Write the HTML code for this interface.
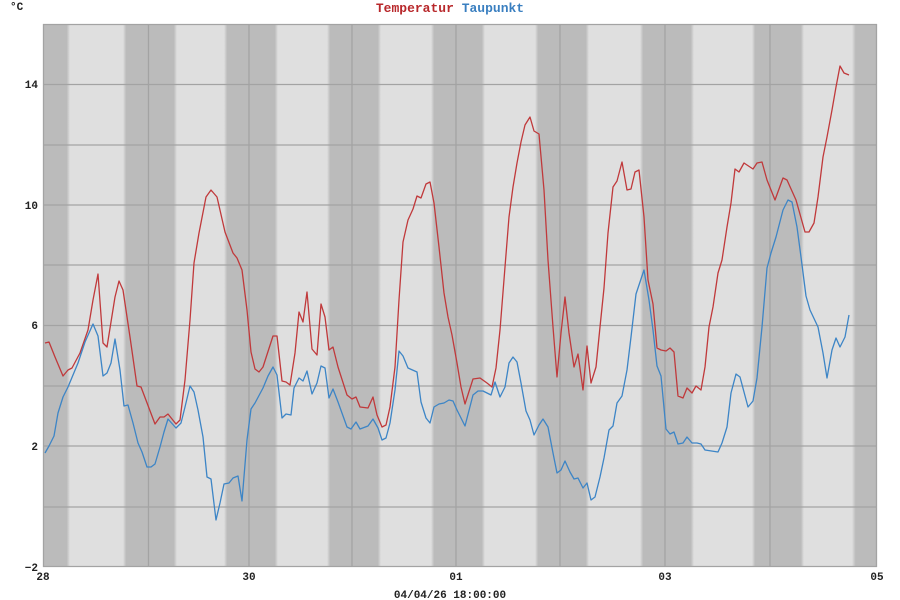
<!DOCTYPE html>
<html><head><meta charset="utf-8"><style>
body{margin:0;background:#fff;}
svg{display:block;}
text{font-family:"Liberation Mono",monospace;font-size:11px;font-weight:bold;fill:#222;}
</style></head><body>
<svg width="900" height="600" viewBox="0 0 900 600">
<defs>
<linearGradient id="bg" x1="0" x2="1" y1="0" y2="0">
<stop offset="0" stop-color="#dfdfdf"/><stop offset="0.06" stop-color="#bbbbbb"/>
<stop offset="0.94" stop-color="#bbbbbb"/><stop offset="1" stop-color="#dfdfdf"/>
</linearGradient>
<clipPath id="c"><rect x="43" y="24" width="834" height="543"/></clipPath>
</defs>
<rect x="43" y="24" width="834" height="543" fill="#dfdfdf"/>
<g clip-path="url(#c)">
<rect x="15" y="24" width="55" height="543" fill="url(#bg)"/>
<rect x="123" y="24" width="54" height="543" fill="url(#bg)"/>
<rect x="224" y="24" width="54" height="543" fill="url(#bg)"/>
<rect x="327" y="24" width="54" height="543" fill="url(#bg)"/>
<rect x="431" y="24" width="54" height="543" fill="url(#bg)"/>
<rect x="535" y="24" width="54" height="543" fill="url(#bg)"/>
<rect x="640" y="24" width="54" height="543" fill="url(#bg)"/>
<rect x="752" y="24" width="52" height="543" fill="url(#bg)"/>
<rect x="852" y="24" width="60" height="543" fill="url(#bg)"/>
</g>
<g stroke="#a3a3a3" stroke-width="1.3">
<line x1="43" x2="877" y1="24.5" y2="24.5"/>
<line x1="43" x2="877" y1="84.5" y2="84.5"/>
<line x1="43" x2="877" y1="145" y2="145"/>
<line x1="43" x2="877" y1="205" y2="205"/>
<line x1="43" x2="877" y1="265" y2="265"/>
<line x1="43" x2="877" y1="325.5" y2="325.5"/>
<line x1="43" x2="877" y1="386" y2="386"/>
<line x1="43" x2="877" y1="446" y2="446"/>
<line x1="43" x2="877" y1="507" y2="507"/>
<line x1="43" x2="877" y1="566.5" y2="566.5"/>
<line y1="24" y2="567" x1="43.5" x2="43.5"/>
<line y1="24" y2="567" x1="148.5" x2="148.5"/>
<line y1="24" y2="567" x1="249" x2="249"/>
<line y1="24" y2="567" x1="352" x2="352"/>
<line y1="24" y2="567" x1="456" x2="456"/>
<line y1="24" y2="567" x1="560" x2="560"/>
<line y1="24" y2="567" x1="665" x2="665"/>
<line y1="24" y2="567" x1="770" x2="770"/>
<line y1="24" y2="567" x1="876.5" x2="876.5"/>
</g>
<polyline fill="none" stroke="#c0393b" stroke-width="1.3" stroke-linejoin="round" points="45,343 49,342 55,357 63,376 68,370 72,368 80,353 88,330 93,300 98,274 103,343 107,347 115,297 119,281 123,290 130,337 137,386 141,387 155,424 160,417 164,417 168,414 176,424 180,420 185,380 190,320 194,263 199,233 206,197 211,190 217,197 225,232 233,253 237,258 242,270 247,310 251,352 255,369 259,372 263,367 273,336 277,336 282,381 286,382 290,385 295,353 299,312 303,322 307,292 312,349 317,355 321,304 325,317 329,350 333,347 338,367 347,395 352,399 356,397 360,407 368,408 373,397 377,415 382,427 386,425 390,407 395,367 399,300 403,242 408,220 413,209 417,196 421,198 426,184 430,182 434,203 439,247 444,293 448,317 452,335 457,363 461,387 465,404 473,379 480,378 487,383 492,387 496,368 500,330 505,267 509,217 513,187 517,163 521,142 525,125 530,117 534,131 539,134 544,190 548,260 553,327 557,377 561,333 565,297 569,333 574,367 578,354 583,390 587,346 591,383 596,367 600,327 604,288 608,233 613,187 617,181 622,162 627,190 631,189 635,172 639,170 644,217 648,280 653,304 657,348 661,350 666,351 670,348 674,352 678,396 683,398 687,388 692,393 696,386 701,390 705,367 709,327 713,307 718,273 722,260 727,227 731,203 735,169 739,172 744,163 753,169 757,163 762,162 767,180 775,200 783,178 787,180 796,200 805,232 809,232 814,223 818,197 823,157 827,137 832,110 836,87 840,66 844,73 849,75"/>
<polyline fill="none" stroke="#3d85c6" stroke-width="1.3" stroke-linejoin="round" points="45,453 49,446 54,436 58,413 63,397 68,387 73,375 78,363 85,342 89,333 93,324 98,336 103,376 107,373 111,363 115,339 120,370 124,406 128,405 133,423 138,443 142,452 147,467 151,467 155,464 160,447 164,432 168,419 176,428 181,423 185,407 190,386 194,392 198,410 203,437 207,477 211,479 216,520 220,503 224,484 229,483 233,478 238,476 242,501 247,440 251,409 255,403 263,388 268,376 273,367 277,375 282,418 286,414 291,415 294,388 299,378 303,381 307,371 312,394 317,383 321,366 325,368 329,398 333,389 338,402 347,427 351,429 356,422 360,429 368,426 373,419 378,428 382,440 386,438 390,423 395,390 399,351 403,356 408,368 417,372 421,402 426,418 430,423 434,407 439,404 444,403 449,400 453,401 457,410 465,426 473,395 478,391 483,391 491,395 495,382 500,397 505,387 509,363 513,357 517,362 521,383 526,411 530,420 534,435 539,425 543,419 548,427 553,453 557,473 561,470 565,461 570,472 574,479 578,478 583,488 587,483 591,500 595,497 600,477 604,458 609,430 613,426 617,403 622,396 627,370 631,337 636,294 644,270 649,300 653,330 657,366 661,376 666,429 670,434 674,432 678,444 683,443 687,437 692,443 697,443 701,444 705,450 718,452 722,443 727,427 731,393 736,374 740,377 748,407 753,401 757,378 762,327 767,268 771,253 776,237 783,210 788,200 792,202 797,227 801,257 806,296 810,310 818,327 823,353 827,378 832,350 836,338 840,347 845,337 849,315"/>
<text x="10" y="10">°C</text>
<text x="450" y="12" text-anchor="middle" style="font-size:13px"><tspan fill="#b8282b" style="fill:#b8282b">Temperatur</tspan> <tspan style="fill:#3a7fc0">Taupunkt</tspan></text>
<g text-anchor="end">
<text x="38" y="88">14</text>
<text x="38" y="209">10</text>
<text x="38" y="329">6</text>
<text x="38" y="450">2</text>
<text x="38" y="571">−2</text>
</g>
<g text-anchor="middle">
<text x="43" y="580">28</text>
<text x="249" y="580">30</text>
<text x="456" y="580">01</text>
<text x="665" y="580">03</text>
<text x="877" y="580">05</text>
<text x="450" y="598">04/04/26 18:00:00</text>
</g>
</svg>
</body></html>
